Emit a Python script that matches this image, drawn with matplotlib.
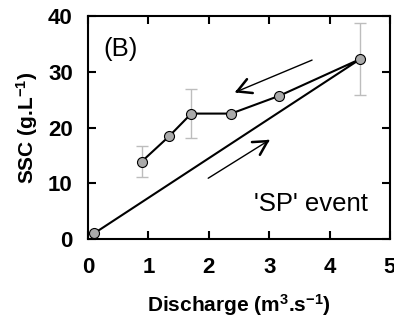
import numpy as np
import matplotlib
matplotlib.use('Agg')
import matplotlib.pyplot as plt

plt.rcParams['font.family'] = ['Liberation Sans', 'DejaVu Sans']
plt.rcParams['mathtext.fontset'] = 'custom'
plt.rcParams['mathtext.rm'] = 'Liberation Sans:bold'
plt.rcParams['mathtext.it'] = 'Liberation Sans:bold'
plt.rcParams['mathtext.bf'] = 'Liberation Sans:bold'

# hysteresis loop, in sampling order
discharge = [0.10, 4.51, 3.17, 2.37, 1.71, 1.34, 0.89]
ssc = [1.0, 32.3, 25.7, 22.5, 22.5, 18.4, 13.9]

# points with error bars
err_x = [0.89, 1.71, 4.51]
err_lo = [11.2, 18.1, 25.9]
err_hi = [16.7, 27.0, 38.8]

fig = plt.figure(figsize=(3.94, 3.21), dpi=100)
ax = fig.add_axes([0.2234, 0.2555, 0.7664, 0.6945])

mid = [(a + b) / 2 for a, b in zip(err_lo, err_hi)]
half = [(b - a) / 2 for a, b in zip(err_lo, err_hi)]
ax.errorbar(err_x, mid, yerr=half, fmt='none', ecolor='#bdbdbd', elinewidth=1,
            capsize=4.5, capthick=1, zorder=1)

ax.plot(discharge, ssc, color='black', lw=1.5, marker='o', markersize=7.2,
        markerfacecolor='#aaaaaa', markeredgecolor='black', markeredgewidth=0.8,
        zorder=3)

# direction arrows: thin shaft, heavier open head
for tail, tip in [((3.71, 32.1), (2.43, 26.3)), ((1.99, 10.9), (3.01, 17.8))]:
    ax.annotate('', xy=tip, xytext=tail,
                arrowprops=dict(arrowstyle='-', lw=1.0, shrinkA=0, shrinkB=1))
    near = (tip[0] - 0.04 * (tip[0] - tail[0]), tip[1] - 0.04 * (tip[1] - tail[1]))
    ax.annotate('', xy=tip, xytext=near,
                arrowprops=dict(arrowstyle='->,head_length=0.55,head_width=0.3',
                                lw=1.8, mutation_scale=18, shrinkA=0, shrinkB=0))

ax.text(0.25, 34.0, '(B)', fontsize=18.5, va='center', ha='left')
ax.text(4.64, 6.2, "'SP' event", fontsize=18.5, va='center', ha='right')

ax.set_xlim(0, 5)
ax.set_ylim(0, 40)
ax.set_xticks([0, 1, 2, 3, 4, 5])
ax.set_yticks([0, 10, 20, 30, 40])
ax.tick_params(direction='in', length=6, width=1.5, top=True, right=True,
               labelsize=16)
ax.tick_params(axis='x', pad=13)
ax.tick_params(axis='y', pad=11)
for lab in ax.get_xticklabels() + ax.get_yticklabels():
    lab.set_fontweight('bold')
for s in ax.spines.values():
    s.set_linewidth(1.5)

ax.set_xlabel('Discharge (m$^{3}$.s$^{-1}$)', fontsize=15, fontweight='bold', labelpad=10)
ax.set_ylabel('SSC (g.L$^{-1}$)', fontsize=15, fontweight='bold', labelpad=6)

fig.savefig('out.png', dpi=100)
